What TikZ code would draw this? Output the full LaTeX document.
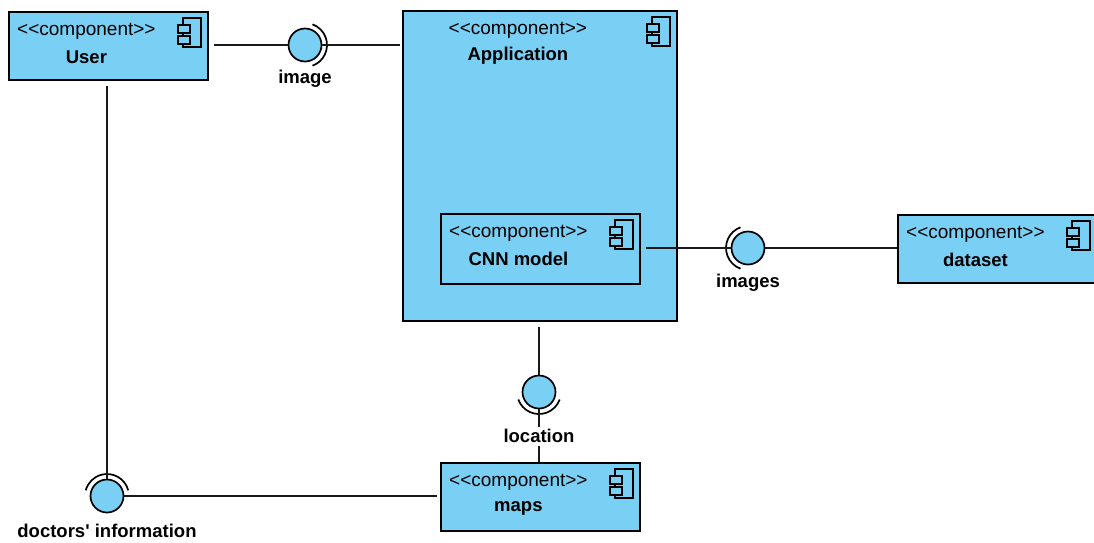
\documentclass[tikz,border=0pt]{standalone}
\usepackage{fontspec}
\setmainfont{Liberation Sans}
\usetikzlibrary{calc}
\definecolor{compblue}{RGB}{122,207,245}

% component icon, placed at the north east corner of a box
\tikzset{
  compicon/.pic={
    \draw[line width=1.6pt, fill=compblue] (-26,-7) rectangle (-8,-36);
    \draw[line width=1.6pt, fill=compblue] (-31,-14) rectangle (-19,-22);
    \draw[line width=1.6pt, fill=compblue] (-31,-25) rectangle (-19,-33);
  }
}

% box, icon, stereotype and name of one component
\newcommand\compbox[6]{%
  \node[comp, minimum width=#4, minimum height=#5] (#1) at (#2,#3) {};
  \pic at (#1.north east) {compicon};
  \node[stereo] (#1-st) at ($(#1.north)+(-22,-20)$) {<\kern0pt<component>\kern0pt>};
  \node[cname] (#1-nm) at ($(#1.north)+(-22,-46)$) {#6};
}

\begin{document}
\begin{tikzpicture}[x=1pt, y=1pt,
  comp/.style={draw=black, line width=1.8pt, fill=compblue, anchor=north west, inner sep=0pt},
  ball/.style={circle, draw=black, line width=1.7pt, fill=compblue, minimum size=33pt, inner sep=0pt},
  socket/.style={draw=black, line width=1.7pt},
  wire/.style={draw=black!90, line width=1.8pt},
  stereo/.style={font=\fontsize{19}{22}\selectfont, inner sep=0pt},
  cname/.style={font=\fontsize{18.5}{22}\selectfont\bfseries, inner sep=0pt},
  ilabel/.style={font=\fontsize{18.5}{22}\selectfont\bfseries, inner sep=1pt},
]
\useasboundingbox (0,0) rectangle (1094,-542);

% components
\compbox{user}{8}{-11}{199pt}{68pt}{User}
\compbox{app}{402}{-10}{274pt}{310pt}{Application}
\compbox{cnn}{440}{-213}{199pt}{70pt}{CNN model}
\compbox{data}{897}{-214}{199pt}{68pt}{dataset}
\compbox{maps}{440}{-462}{199pt}{68pt}{maps}

% provided interfaces (balls)
\node[ball] (img)  at (305,-45)  {};
\node[ball] (imgs) at (748,-248) {};
\node[ball] (loc)  at (539,-392) {};
\node[ball] (doc)  at (107,-496) {};

% required interfaces (sockets)
\draw[socket] ([shift={(-70:22)}]img.center)  arc[start angle=-70, end angle=70,  radius=22];
\draw[socket] ([shift={(110:22)}]imgs.center) arc[start angle=110, end angle=250, radius=22];
\draw[socket] ([shift={(200:22)}]loc.center)  arc[start angle=200, end angle=340, radius=22];
\draw[socket] ([shift={(15:22)}]doc.center)   arc[start angle=15,  end angle=165, radius=22];

% connectors
\draw[wire, shorten <=5pt] (user.east |- img) -- (img.west);
\draw[wire, shorten >=2pt] (img.east) -- (img -| app.west);
\draw[wire, shorten <=5pt] (cnn.east |- imgs) -- (imgs.west);
\draw[wire] (imgs.east) -- (imgs -| data.west);
\draw[wire, shorten <=5pt] (app.south -| loc) -- (loc.north);
\draw[wire] (loc.south) -- (loc |- maps.north);
\draw[wire, shorten <=5pt] (user.south -| doc) -- (doc.north);
\draw[wire, shorten >=3pt] (doc.east) -- (doc -| maps.west);

% interface labels
\node[ilabel] (img-l)  at ($(img.south)+(0,-16)$)  {image};
\node[ilabel] (imgs-l) at ($(imgs.south)+(0,-17)$) {images};
\node[ilabel, fill=white, inner sep=3pt] (loc-l) at ($(loc.south)+(0,-27)$) {location};
\node[ilabel] (doc-l)  at ($(doc.south)+(0,-18)$)  {doctors\textquotesingle{} information};
\end{tikzpicture}
\end{document}
